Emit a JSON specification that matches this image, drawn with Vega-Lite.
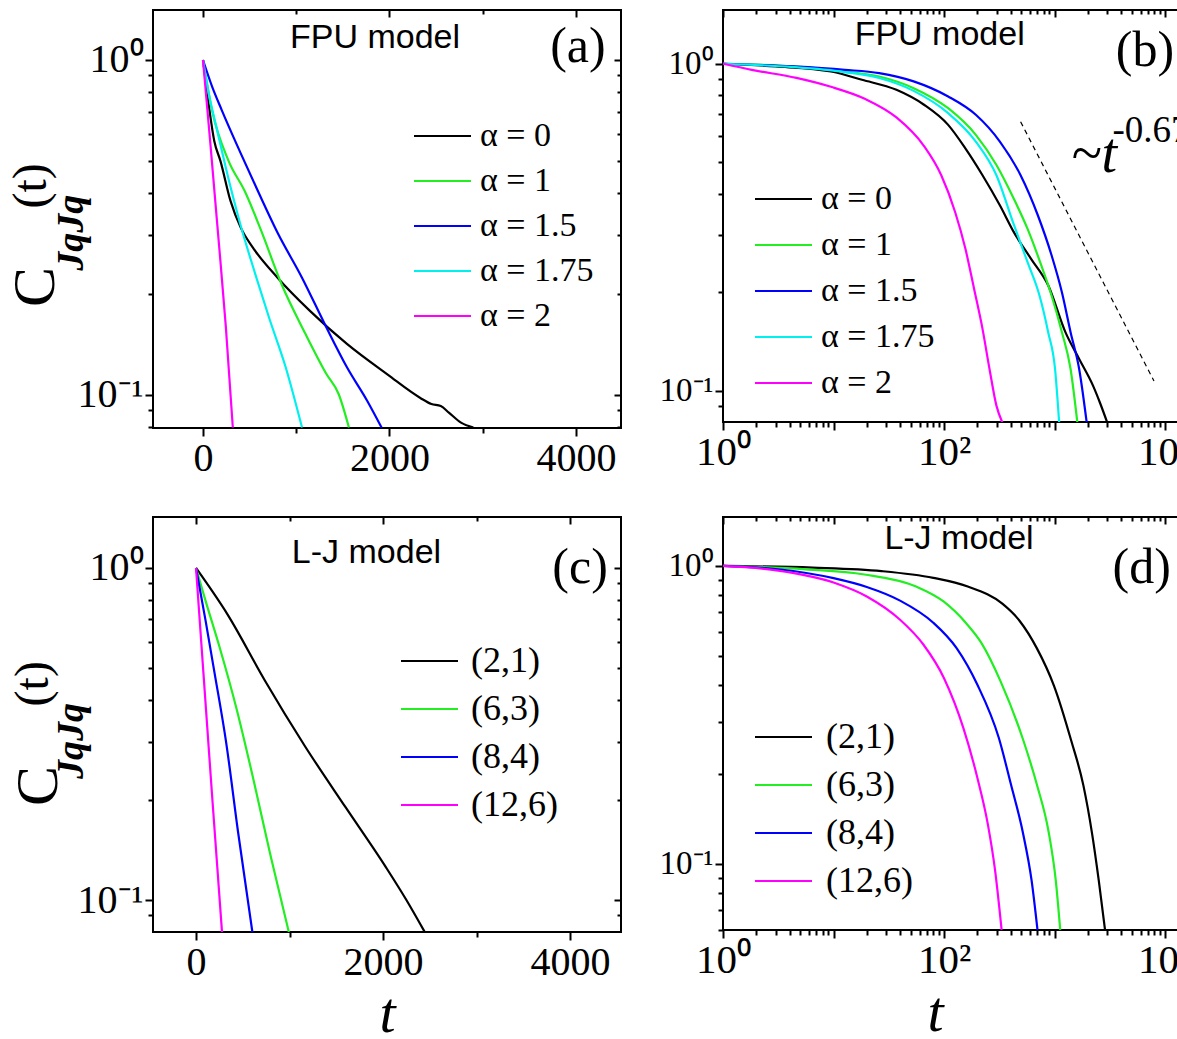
{
  "$schema": "https://vega.github.io/schema/vega-lite/v6.json",
  "background": "white",
  "padding": {"left": 5, "top": 8, "right": 0, "bottom": 0},
  "autosize": {"type": "pad"},
  "columns": 2,
  "spacing": {"row": 89, "column": 102},
  "bounds": "flush",
  "resolve": {"scale": {"x": "independent", "y": "independent", "color": "independent"}},
  "datasets": {
    "a": [
      {"s": "α = 0", "t": 0, "C": 1}, {"s": "α = 0", "t": 56, "C": 0.755}, {"s": "α = 0", "t": 121, "C": 0.573}, {"s": "α = 0", "t": 187, "C": 0.5}, {"s": "α = 0", "t": 296, "C": 0.379}, {"s": "α = 0", "t": 405, "C": 0.316}, {"s": "α = 0", "t": 537, "C": 0.275}, {"s": "α = 0", "t": 800, "C": 0.224}, {"s": "α = 0", "t": 1150, "C": 0.178}, {"s": "α = 0", "t": 1544, "C": 0.142}, {"s": "α = 0", "t": 1981, "C": 0.115}, {"s": "α = 0", "t": 2331, "C": 0.098}, {"s": "α = 0", "t": 2450, "C": 0.094}, {"s": "α = 0", "t": 2550, "C": 0.0927}, {"s": "α = 0", "t": 2637, "C": 0.0886}, {"s": "α = 0", "t": 2767, "C": 0.0827}, {"s": "α = 0", "t": 2900, "C": 0.08},
      {"s": "α = 1", "t": 0, "C": 1}, {"s": "α = 1", "t": 98, "C": 0.705}, {"s": "α = 1", "t": 274, "C": 0.5}, {"s": "α = 1", "t": 450, "C": 0.405}, {"s": "α = 1", "t": 623, "C": 0.31}, {"s": "α = 1", "t": 843, "C": 0.214}, {"s": "α = 1", "t": 1100, "C": 0.152}, {"s": "α = 1", "t": 1324, "C": 0.1155}, {"s": "α = 1", "t": 1456, "C": 0.1005}, {"s": "α = 1", "t": 1565, "C": 0.08},
      {"s": "α = 1.5", "t": 0, "C": 1}, {"s": "α = 1.5", "t": 100, "C": 0.83}, {"s": "α = 1.5", "t": 200, "C": 0.71}, {"s": "α = 1.5", "t": 400, "C": 0.53}, {"s": "α = 1.5", "t": 600, "C": 0.4}, {"s": "α = 1.5", "t": 800, "C": 0.305}, {"s": "α = 1.5", "t": 1062, "C": 0.224}, {"s": "α = 1.5", "t": 1324, "C": 0.159}, {"s": "α = 1.5", "t": 1544, "C": 0.121}, {"s": "α = 1.5", "t": 1762, "C": 0.096}, {"s": "α = 1.5", "t": 1915, "C": 0.08},
      {"s": "α = 1.75", "t": 0, "C": 1}, {"s": "α = 1.75", "t": 60, "C": 0.8}, {"s": "α = 1.75", "t": 150, "C": 0.62}, {"s": "α = 1.75", "t": 250, "C": 0.47}, {"s": "α = 1.75", "t": 405, "C": 0.32}, {"s": "α = 1.75", "t": 560, "C": 0.23}, {"s": "α = 1.75", "t": 709, "C": 0.17}, {"s": "α = 1.75", "t": 887, "C": 0.121}, {"s": "α = 1.75", "t": 1062, "C": 0.08},
      {"s": "α = 2", "t": 0, "C": 1}, {"s": "α = 2", "t": 80, "C": 0.56}, {"s": "α = 2", "t": 163, "C": 0.3}, {"s": "α = 2", "t": 245, "C": 0.16}, {"s": "α = 2", "t": 320, "C": 0.08}
    ],
    "b": [
      {"s": "α = 0", "t": 1, "C": 1}, {"s": "α = 0", "t": 3, "C": 0.981}, {"s": "α = 0", "t": 9.48, "C": 0.947}, {"s": "α = 0", "t": 18.1, "C": 0.893}, {"s": "α = 0", "t": 37.1, "C": 0.832}, {"s": "α = 0", "t": 65.9, "C": 0.749}, {"s": "α = 0", "t": 109, "C": 0.65}, {"s": "α = 0", "t": 156, "C": 0.551}, {"s": "α = 0", "t": 223, "C": 0.456}, {"s": "α = 0", "t": 320, "C": 0.369}, {"s": "α = 0", "t": 427, "C": 0.306}, {"s": "α = 0", "t": 611, "C": 0.2535}, {"s": "α = 0", "t": 876, "C": 0.21}, {"s": "α = 0", "t": 1254, "C": 0.151}, {"s": "α = 0", "t": 1671, "C": 0.125}, {"s": "α = 0", "t": 2229, "C": 0.1036}, {"s": "α = 0", "t": 2572, "C": 0.092}, {"s": "α = 0", "t": 3010, "C": 0.0796},
      {"s": "α = 1", "t": 1, "C": 1}, {"s": "α = 1", "t": 4.3, "C": 0.981}, {"s": "α = 1", "t": 12.6, "C": 0.947}, {"s": "α = 1", "t": 25.9, "C": 0.914}, {"s": "α = 1", "t": 53.1, "C": 0.842}, {"s": "α = 1", "t": 109, "C": 0.731}, {"s": "α = 1", "t": 194, "C": 0.606}, {"s": "α = 1", "t": 298, "C": 0.49}, {"s": "α = 1", "t": 427, "C": 0.387}, {"s": "α = 1", "t": 569, "C": 0.313}, {"s": "α = 1", "t": 759, "C": 0.2416}, {"s": "α = 1", "t": 940, "C": 0.1955}, {"s": "α = 1", "t": 1166, "C": 0.151}, {"s": "α = 1", "t": 1397, "C": 0.1165}, {"s": "α = 1", "t": 1611, "C": 0.0796},
      {"s": "α = 1.5", "t": 1, "C": 1}, {"s": "α = 1.5", "t": 4.3, "C": 0.981}, {"s": "α = 1.5", "t": 12.6, "C": 0.958}, {"s": "α = 1.5", "t": 25.9, "C": 0.936}, {"s": "α = 1.5", "t": 53.1, "C": 0.883}, {"s": "α = 1.5", "t": 109, "C": 0.794}, {"s": "α = 1.5", "t": 194, "C": 0.698}, {"s": "α = 1.5", "t": 320, "C": 0.578}, {"s": "α = 1.5", "t": 493, "C": 0.456}, {"s": "α = 1.5", "t": 706, "C": 0.344}, {"s": "α = 1.5", "t": 940, "C": 0.2595}, {"s": "α = 1.5", "t": 1166, "C": 0.2}, {"s": "α = 1.5", "t": 1397, "C": 0.151}, {"s": "α = 1.5", "t": 1671, "C": 0.1165}, {"s": "α = 1.5", "t": 1958, "C": 0.0796},
      {"s": "α = 1.75", "t": 1, "C": 1}, {"s": "α = 1.75", "t": 4.3, "C": 0.977}, {"s": "α = 1.75", "t": 12.6, "C": 0.943}, {"s": "α = 1.75", "t": 25.9, "C": 0.904}, {"s": "α = 1.75", "t": 53.1, "C": 0.826}, {"s": "α = 1.75", "t": 109, "C": 0.706}, {"s": "α = 1.75", "t": 194, "C": 0.578}, {"s": "α = 1.75", "t": 298, "C": 0.456}, {"s": "α = 1.75", "t": 427, "C": 0.323}, {"s": "α = 1.75", "t": 569, "C": 0.2475}, {"s": "α = 1.75", "t": 731, "C": 0.1955}, {"s": "α = 1.75", "t": 876, "C": 0.151}, {"s": "α = 1.75", "t": 1011, "C": 0.1165}, {"s": "α = 1.75", "t": 1102, "C": 0.0796},
      {"s": "α = 2", "t": 1, "C": 1}, {"s": "α = 2", "t": 1.82, "C": 0.958}, {"s": "α = 2", "t": 4.62, "C": 0.905}, {"s": "α = 2", "t": 9.48, "C": 0.85}, {"s": "α = 2", "t": 19.4, "C": 0.78}, {"s": "α = 2", "t": 37.1, "C": 0.685}, {"s": "α = 2", "t": 65.9, "C": 0.56}, {"s": "α = 2", "t": 94.4, "C": 0.456}, {"s": "α = 2", "t": 126, "C": 0.352}, {"s": "α = 2", "t": 156, "C": 0.272}, {"s": "α = 2", "t": 187, "C": 0.205}, {"s": "α = 2", "t": 223, "C": 0.1545}, {"s": "α = 2", "t": 258, "C": 0.1165}, {"s": "α = 2", "t": 298, "C": 0.09}, {"s": "α = 2", "t": 339, "C": 0.0796}
    ],
    "bfit": [{"t": 493, "C": 0.665}, {"t": 7943, "C": 0.107}],
    "c": [
      {"s": "(2,1)", "t": 0, "C": 1}, {"s": "(2,1)", "t": 343, "C": 0.72}, {"s": "(2,1)", "t": 733, "C": 0.46}, {"s": "(2,1)", "t": 1167, "C": 0.29}, {"s": "(2,1)", "t": 1601, "C": 0.19}, {"s": "(2,1)", "t": 2035, "C": 0.125}, {"s": "(2,1)", "t": 2250, "C": 0.1}, {"s": "(2,1)", "t": 2447, "C": 0.08},
      {"s": "(6,3)", "t": 0, "C": 1}, {"s": "(6,3)", "t": 100, "C": 0.8}, {"s": "(6,3)", "t": 250, "C": 0.58}, {"s": "(6,3)", "t": 430, "C": 0.38}, {"s": "(6,3)", "t": 600, "C": 0.24}, {"s": "(6,3)", "t": 800, "C": 0.135}, {"s": "(6,3)", "t": 993, "C": 0.08},
      {"s": "(8,4)", "t": 0, "C": 1}, {"s": "(8,4)", "t": 100, "C": 0.7}, {"s": "(8,4)", "t": 200, "C": 0.48}, {"s": "(8,4)", "t": 321, "C": 0.3}, {"s": "(8,4)", "t": 450, "C": 0.16}, {"s": "(8,4)", "t": 603, "C": 0.08},
      {"s": "(12,6)", "t": 0, "C": 1}, {"s": "(12,6)", "t": 80, "C": 0.48}, {"s": "(12,6)", "t": 170, "C": 0.21}, {"s": "(12,6)", "t": 278, "C": 0.08}
    ],
    "d": [
      {"s": "(2,1)", "t": 1, "C": 1}, {"s": "(2,1)", "t": 6.48, "C": 0.987}, {"s": "(2,1)", "t": 27.2, "C": 0.961}, {"s": "(2,1)", "t": 80, "C": 0.912}, {"s": "(2,1)", "t": 164, "C": 0.853}, {"s": "(2,1)", "t": 337, "C": 0.747}, {"s": "(2,1)", "t": 482, "C": 0.655}, {"s": "(2,1)", "t": 691, "C": 0.53}, {"s": "(2,1)", "t": 989, "C": 0.396}, {"s": "(2,1)", "t": 1417, "C": 0.259}, {"s": "(2,1)", "t": 1822, "C": 0.1838}, {"s": "(2,1)", "t": 2183, "C": 0.1269}, {"s": "(2,1)", "t": 2518, "C": 0.0876}, {"s": "(2,1)", "t": 2864, "C": 0.0601},
      {"s": "(6,3)", "t": 1, "C": 1}, {"s": "(6,3)", "t": 5.6, "C": 0.974}, {"s": "(6,3)", "t": 19, "C": 0.936}, {"s": "(6,3)", "t": 55.9, "C": 0.853}, {"s": "(6,3)", "t": 99, "C": 0.76}, {"s": "(6,3)", "t": 160, "C": 0.64}, {"s": "(6,3)", "t": 219, "C": 0.55}, {"s": "(6,3)", "t": 325, "C": 0.41}, {"s": "(6,3)", "t": 518, "C": 0.262}, {"s": "(6,3)", "t": 691, "C": 0.185}, {"s": "(6,3)", "t": 888, "C": 0.127}, {"s": "(6,3)", "t": 1026, "C": 0.088}, {"s": "(6,3)", "t": 1126, "C": 0.0601},
      {"s": "(8,4)", "t": 1, "C": 1}, {"s": "(8,4)", "t": 3.16, "C": 0.975}, {"s": "(8,4)", "t": 10, "C": 0.91}, {"s": "(8,4)", "t": 20, "C": 0.85}, {"s": "(8,4)", "t": 40, "C": 0.765}, {"s": "(8,4)", "t": 80, "C": 0.645}, {"s": "(8,4)", "t": 130, "C": 0.53}, {"s": "(8,4)", "t": 200, "C": 0.4}, {"s": "(8,4)", "t": 313, "C": 0.265}, {"s": "(8,4)", "t": 403, "C": 0.185}, {"s": "(8,4)", "t": 518, "C": 0.127}, {"s": "(8,4)", "t": 620, "C": 0.088}, {"s": "(8,4)", "t": 701, "C": 0.0601},
      {"s": "(12,6)", "t": 1, "C": 1}, {"s": "(12,6)", "t": 3.16, "C": 0.965}, {"s": "(12,6)", "t": 10, "C": 0.88}, {"s": "(12,6)", "t": 20, "C": 0.79}, {"s": "(12,6)", "t": 40, "C": 0.66}, {"s": "(12,6)", "t": 65, "C": 0.545}, {"s": "(12,6)", "t": 100, "C": 0.42}, {"s": "(12,6)", "t": 150, "C": 0.285}, {"s": "(12,6)", "t": 200, "C": 0.195}, {"s": "(12,6)", "t": 250, "C": 0.135}, {"s": "(12,6)", "t": 290, "C": 0.095}, {"s": "(12,6)", "t": 332, "C": 0.0601}
    ]
  },
  "concat": [
    {
      "width": 468, "height": 418,
      "resolve": {"axis": {"x": "independent", "y": "independent"}},
      "layer": [
        {
          "data": {"name": "a"},
          "mark": {"type": "line", "strokeWidth": 2.2, "clip": true, "interpolate": "monotone"},
          "encoding": {
            "x": {"field": "t", "type": "quantitative", "scale": {"domain": [-536, 4483], "nice": false, "zero": false},
                  "axis": {"title": null, "values": [0, 1000, 2000, 3000, 4000], "format": "d", "labelExpr": "datum.value % 2000 == 0 ? datum.label : ''", "labelFont": "Liberation Serif", "labelFontSize": 40, "tickSize": {"condition": {"test": "datum.value % 2000 == 0", "value": 8}, "value": 5}}},
            "y": {"field": "C", "type": "quantitative", "scale": {"type": "log", "domain": [0.0797, 1.41], "nice": false},
                  "axis": {"title": null, "values": [0.08, 0.09, 0.1, 0.2, 0.3, 0.4, 0.5, 0.6, 0.7, 0.8, 0.9, 1], "labelExpr": "datum.value == 1 ? '10⁰' : (datum.value == 0.1 ? '10⁻¹' : '')", "labelFont": "Liberation Serif", "labelFontSize": 40, "tickSize": {"condition": {"test": "datum.value == 1 || datum.value == 0.1", "value": 8}, "value": 5}}},
            "color": {"field": "s", "type": "nominal",
                      "scale": {"domain": ["α = 0", "α = 1", "α = 1.5", "α = 1.75", "α = 2"], "range": ["#000000", "#22ee22", "#0000ff", "#00f0f0", "#ff00ff"]},
                      "legend": {"title": null, "orient": "none", "legendX": 254, "legendY": 109, "symbolType": "M-1,0H4.7", "symbolSize": 400, "symbolStrokeWidth": 2, "labelFont": "Liberation Serif", "labelFontSize": 34, "labelOffset": 39, "rowPadding": 11, "padding": 0}}
          }
        },
        {"data": {"values": [{}]}, "mark": {"type": "text", "text": "FPU model", "font": "Liberation Sans", "fontSize": 34, "align": "center", "baseline": "middle"},
         "encoding": {"x": {"datum": 1845, "type": "quantitative", "axis": {"orient": "top", "title": null, "labels": false, "values": [0, 1000, 2000, 3000, 4000], "tickSize": {"condition": {"test": "datum.value % 2000 == 0", "value": -7}, "value": -4}}},
                      "y": {"datum": 1.163, "type": "quantitative", "axis": {"orient": "right", "title": null, "labels": false, "values": [0.08, 0.09, 0.1, 0.2, 0.3, 0.4, 0.5, 0.6, 0.7, 0.8, 0.9, 1], "tickSize": {"condition": {"test": "datum.value == 1 || datum.value == 0.1", "value": -7}, "value": -4}}}}},
        {"data": {"values": [{}]}, "mark": {"type": "text", "text": "(a)", "font": "Liberation Serif", "fontSize": 50, "align": "center", "baseline": "middle"},
         "encoding": {"x": {"datum": 4021, "type": "quantitative", "axis": null}, "y": {"datum": 1.093, "type": "quantitative", "axis": null}}},
        {"data": {"values": [{}]}, "mark": {"type": "text", "text": "C", "font": "Liberation Serif", "fontSize": 60, "angle": 270, "align": "center", "baseline": "middle"},
         "encoding": {"x": {"datum": -1786, "type": "quantitative", "axis": null}, "y": {"datum": 0.21, "type": "quantitative", "axis": null}}},
        {"data": {"values": [{}]}, "mark": {"type": "text", "text": "JqJq", "font": "Liberation Serif", "fontSize": 38, "fontStyle": "italic", "fontWeight": "bold", "angle": 270, "align": "center", "baseline": "middle"},
         "encoding": {"x": {"datum": -1405, "type": "quantitative", "axis": null}, "y": {"datum": 0.305, "type": "quantitative", "axis": null}}},
        {"data": {"values": [{}]}, "mark": {"type": "text", "text": "(t)", "font": "Liberation Serif", "fontSize": 48, "angle": 270, "align": "center", "baseline": "middle"},
         "encoding": {"x": {"datum": -1830, "type": "quantitative", "axis": null}, "y": {"datum": 0.421, "type": "quantitative", "axis": null}}}
      ]
    },
    {
      "width": 455, "height": 412,
      "resolve": {"axis": {"x": "independent", "y": "independent"}},
      "layer": [
        {
          "data": {"name": "b"},
          "mark": {"type": "line", "strokeWidth": 2.2, "clip": true, "interpolate": "monotone"},
          "encoding": {
            "x": {"field": "t", "type": "quantitative", "scale": {"type": "log", "domain": [1, 13100], "nice": false},
                  "axis": {"title": null, "values": [1,2,3,4,5,6,7,8,9,10,20,30,40,50,60,70,80,90,100,200,300,400,500,600,700,800,900,1000,2000,3000,4000,5000,6000,7000,8000,9000,10000], "labelExpr": "datum.value == 1 ? '10⁰' : (datum.value == 100 ? '10²' : (datum.value == 10000 ? '10⁴' : ''))", "labelFont": "Liberation Serif", "labelFontSize": 41, "tickSize": {"condition": {"test": "datum.value == 1 || datum.value == 10 || datum.value == 100 || datum.value == 1000 || datum.value == 10000", "value": 8}, "value": 5}}},
            "y": {"field": "C", "type": "quantitative", "scale": {"type": "log", "domain": [0.0802, 1.46], "nice": false},
                  "axis": {"title": null, "values": [0.09, 0.1, 0.2, 0.3, 0.4, 0.5, 0.6, 0.7, 0.8, 0.9, 1], "labelExpr": "datum.value == 1 ? '10⁰' : (datum.value == 0.1 ? '10⁻¹' : '')", "labelFont": "Liberation Serif", "labelFontSize": 33, "tickSize": {"condition": {"test": "datum.value == 1 || datum.value == 0.1", "value": 8}, "value": 5}}},
            "color": {"field": "s", "type": "nominal",
                      "scale": {"domain": ["α = 0", "α = 1", "α = 1.5", "α = 1.75", "α = 2"], "range": ["#000000", "#22ee22", "#0000ff", "#00f0f0", "#ff00ff"]},
                      "legend": {"title": null, "orient": "none", "legendX": 25, "legendY": 172, "symbolType": "M-1,0H4.7", "symbolSize": 400, "symbolStrokeWidth": 2, "labelFont": "Liberation Serif", "labelFontSize": 34, "labelOffset": 39, "rowPadding": 12, "padding": 0}}
          }
        },
        {"data": {"name": "bfit"}, "mark": {"type": "line", "color": "black", "strokeWidth": 1.2, "strokeDash": [5, 4]},
         "encoding": {"x": {"field": "t", "type": "quantitative", "axis": null}, "y": {"field": "C", "type": "quantitative", "axis": null}}},
        {"data": {"values": [{}]}, "mark": {"type": "text", "text": "FPU model", "font": "Liberation Sans", "fontSize": 34, "align": "center", "baseline": "middle"},
         "encoding": {"x": {"datum": 91.4, "type": "quantitative", "axis": {"orient": "top", "title": null, "labels": false, "values": [1,2,3,4,5,6,7,8,9,10,20,30,40,50,60,70,80,90,100,200,300,400,500,600,700,800,900,1000,2000,3000,4000,5000,6000,7000,8000,9000,10000], "tickSize": {"condition": {"test": "datum.value == 1 || datum.value == 10 || datum.value == 100 || datum.value == 1000 || datum.value == 10000", "value": -7}, "value": -4}}},
                      "y": {"datum": 1.227, "type": "quantitative", "axis": null}}},
        {"data": {"values": [{}]}, "mark": {"type": "text", "text": "(b)", "font": "Liberation Serif", "fontSize": 50, "align": "center", "baseline": "middle"},
         "encoding": {"x": {"datum": 6590, "type": "quantitative", "axis": null}, "y": {"datum": 1.092, "type": "quantitative", "axis": null}}},
        {"data": {"values": [{}]}, "mark": {"type": "text", "text": "~t", "font": "Liberation Serif", "fontSize": 56, "fontStyle": "italic", "align": "left", "baseline": "alphabetic"},
         "encoding": {"x": {"datum": 1413, "type": "quantitative", "axis": null}, "y": {"datum": 0.4674, "type": "quantitative", "axis": null}}},
        {"data": {"values": [{}]}, "mark": {"type": "text", "text": "-0.67", "font": "Liberation Serif", "fontSize": 37, "align": "left", "baseline": "alphabetic"},
         "encoding": {"x": {"datum": 3350, "type": "quantitative", "axis": null}, "y": {"datum": 0.575, "type": "quantitative", "axis": null}}}
      ]
    },
    {
      "width": 468, "height": 415,
      "resolve": {"axis": {"x": "independent", "y": "independent"}},
      "layer": [
        {
          "data": {"name": "c"},
          "mark": {"type": "line", "strokeWidth": 2.2, "clip": true, "interpolate": "monotone"},
          "encoding": {
            "x": {"field": "t", "type": "quantitative", "scale": {"domain": [-460, 4545], "nice": false, "zero": false},
                  "axis": {"title": "t", "titleFont": "Liberation Serif", "titleFontStyle": "italic", "titleFontWeight": "normal", "titleFontSize": 58, "titlePadding": 3, "values": [0, 1000, 2000, 3000, 4000], "format": "d", "labelExpr": "datum.value % 2000 == 0 ? datum.label : ''", "labelFont": "Liberation Serif", "labelFontSize": 40, "tickSize": {"condition": {"test": "datum.value % 2000 == 0", "value": 8}, "value": 5}}},
            "y": {"field": "C", "type": "quantitative", "scale": {"type": "log", "domain": [0.0801, 1.424], "nice": false},
                  "axis": {"title": null, "values": [0.09, 0.1, 0.2, 0.3, 0.4, 0.5, 0.6, 0.7, 0.8, 0.9, 1], "labelExpr": "datum.value == 1 ? '10⁰' : (datum.value == 0.1 ? '10⁻¹' : '')", "labelFont": "Liberation Serif", "labelFontSize": 40, "tickSize": {"condition": {"test": "datum.value == 1 || datum.value == 0.1", "value": 8}, "value": 5}}},
            "color": {"field": "s", "type": "nominal",
                      "scale": {"domain": ["(2,1)", "(6,3)", "(8,4)", "(12,6)"], "range": ["#000000", "#22ee22", "#0000ff", "#ff00ff"]},
                      "legend": {"title": null, "orient": "none", "legendX": 240, "legendY": 126, "symbolType": "M-1,0H4.7", "symbolSize": 400, "symbolStrokeWidth": 2, "labelFont": "Liberation Serif", "labelFontSize": 36, "labelOffset": 42, "rowPadding": 12, "padding": 0}}
          }
        },
        {"data": {"values": [{}]}, "mark": {"type": "text", "text": "L-J model", "font": "Liberation Sans", "fontSize": 34, "align": "center", "baseline": "middle"},
         "encoding": {"x": {"datum": 1823, "type": "quantitative", "axis": {"orient": "top", "title": null, "labels": false, "values": [0, 1000, 2000, 3000, 4000], "tickSize": {"condition": {"test": "datum.value % 2000 == 0", "value": -7}, "value": -4}}},
                      "y": {"datum": 1.11, "type": "quantitative", "axis": {"orient": "right", "title": null, "labels": false, "values": [0.09, 0.1, 0.2, 0.3, 0.4, 0.5, 0.6, 0.7, 0.8, 0.9, 1], "tickSize": {"condition": {"test": "datum.value == 1 || datum.value == 0.1", "value": -7}, "value": -4}}}}},
        {"data": {"values": [{}]}, "mark": {"type": "text", "text": "(c)", "font": "Liberation Serif", "fontSize": 50, "align": "center", "baseline": "middle"},
         "encoding": {"x": {"datum": 4107, "type": "quantitative", "axis": null}, "y": {"datum": 1.0, "type": "quantitative", "axis": null}}},
        {"data": {"values": [{}]}, "mark": {"type": "text", "text": "C", "font": "Liberation Serif", "fontSize": 60, "angle": 270, "align": "center", "baseline": "middle"},
         "encoding": {"x": {"datum": -1684, "type": "quantitative", "axis": null}, "y": {"datum": 0.2206, "type": "quantitative", "axis": null}}},
        {"data": {"values": [{}]}, "mark": {"type": "text", "text": "JqJq", "font": "Liberation Serif", "fontSize": 38, "fontStyle": "italic", "fontWeight": "bold", "angle": 270, "align": "center", "baseline": "middle"},
         "encoding": {"x": {"datum": -1326, "type": "quantitative", "axis": null}, "y": {"datum": 0.301, "type": "quantitative", "axis": null}}},
        {"data": {"values": [{}]}, "mark": {"type": "text", "text": "(t)", "font": "Liberation Serif", "fontSize": 48, "angle": 270, "align": "center", "baseline": "middle"},
         "encoding": {"x": {"datum": -1735, "type": "quantitative", "axis": null}, "y": {"datum": 0.448, "type": "quantitative", "axis": null}}}
      ]
    },
    {
      "width": 455, "height": 413,
      "resolve": {"axis": {"x": "independent", "y": "independent"}},
      "layer": [
        {
          "data": {"name": "d"},
          "mark": {"type": "line", "strokeWidth": 2.2, "clip": true, "interpolate": "monotone"},
          "encoding": {
            "x": {"field": "t", "type": "quantitative", "scale": {"type": "log", "domain": [1, 13100], "nice": false},
                  "axis": {"title": "t", "titleFont": "Liberation Serif", "titleFontStyle": "italic", "titleFontWeight": "normal", "titleFontSize": 58, "titlePadding": 4, "titleX": 212, "values": [1,2,3,4,5,6,7,8,9,10,20,30,40,50,60,70,80,90,100,200,300,400,500,600,700,800,900,1000,2000,3000,4000,5000,6000,7000,8000,9000,10000], "labelExpr": "datum.value == 1 ? '10⁰' : (datum.value == 100 ? '10²' : (datum.value == 10000 ? '10⁴' : ''))", "labelFont": "Liberation Serif", "labelFontSize": 41, "tickSize": {"condition": {"test": "datum.value == 1 || datum.value == 10 || datum.value == 100 || datum.value == 1000 || datum.value == 10000", "value": 8}, "value": 5}}},
            "y": {"field": "C", "type": "quantitative", "scale": {"type": "log", "domain": [0.06, 1.46], "nice": false},
                  "axis": {"title": null, "values": [0.06, 0.07, 0.08, 0.09, 0.1, 0.2, 0.3, 0.4, 0.5, 0.6, 0.7, 0.8, 0.9, 1], "labelExpr": "datum.value == 1 ? '10⁰' : (datum.value == 0.1 ? '10⁻¹' : '')", "labelFont": "Liberation Serif", "labelFontSize": 33, "tickSize": {"condition": {"test": "datum.value == 1 || datum.value == 0.1", "value": 8}, "value": 5}}},
            "color": {"field": "s", "type": "nominal",
                      "scale": {"domain": ["(2,1)", "(6,3)", "(8,4)", "(12,6)"], "range": ["#000000", "#22ee22", "#0000ff", "#ff00ff"]},
                      "legend": {"title": null, "orient": "none", "legendX": 24, "legendY": 202, "symbolType": "M-1,0H4.7", "symbolSize": 400, "symbolStrokeWidth": 2, "labelFont": "Liberation Serif", "labelFontSize": 36, "labelOffset": 43, "rowPadding": 12, "padding": 0}}
          }
        },
        {"data": {"values": [{}]}, "mark": {"type": "text", "text": "L-J model", "font": "Liberation Sans", "fontSize": 34, "align": "center", "baseline": "middle"},
         "encoding": {"x": {"datum": 136.7, "type": "quantitative", "axis": {"orient": "top", "title": null, "labels": false, "values": [1,2,3,4,5,6,7,8,9,10,20,30,40,50,60,70,80,90,100,200,300,400,500,600,700,800,900,1000,2000,3000,4000,5000,6000,7000,8000,9000,10000], "tickSize": {"condition": {"test": "datum.value == 1 || datum.value == 10 || datum.value == 100 || datum.value == 1000 || datum.value == 10000", "value": -7}, "value": -4}}},
                      "y": {"datum": 1.235, "type": "quantitative", "axis": null}}},
        {"data": {"values": [{}]}, "mark": {"type": "text", "text": "(d)", "font": "Liberation Serif", "fontSize": 50, "align": "center", "baseline": "middle"},
         "encoding": {"x": {"datum": 6152, "type": "quantitative", "axis": null}, "y": {"datum": 0.986, "type": "quantitative", "axis": null}}}
      ]
    }
  ],
  "config": {
    "view": {"stroke": "black", "strokeWidth": 2},
    "axis": {"domain": false, "grid": false, "tickColor": "black", "tickWidth": 2, "labelColor": "black", "labelFont": "Liberation Serif", "labelPadding": 2, "labelOverlap": false, "labelFlush": false, "labelBound": false, "titleColor": "black"},
    "legend": {"labelFont": "Liberation Serif", "labelColor": "black"},
    "text": {"color": "black"}
  }
}
